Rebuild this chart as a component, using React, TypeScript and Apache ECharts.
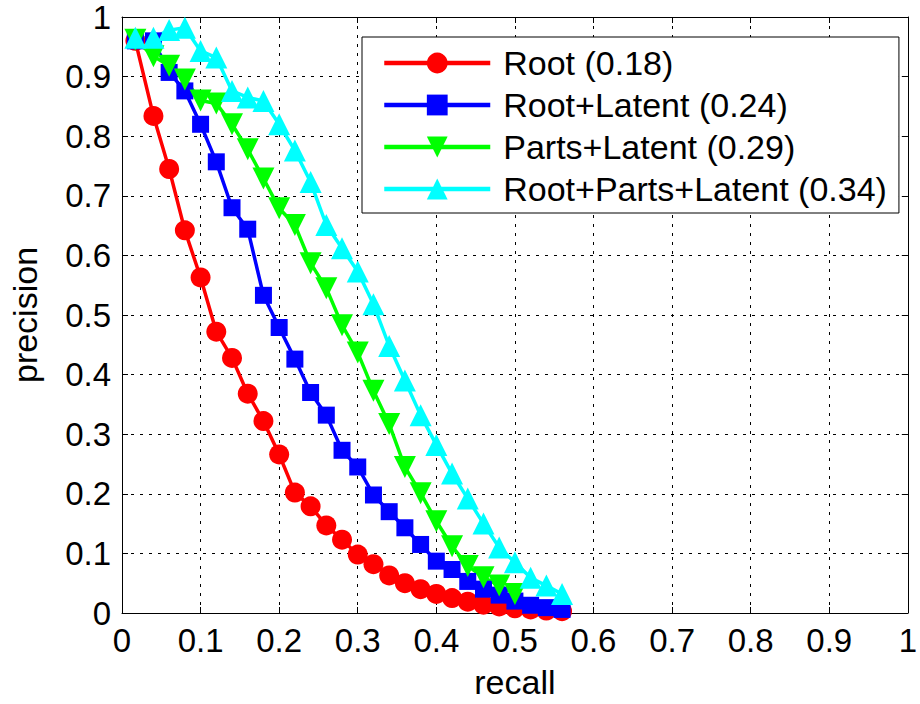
import React, { useEffect, useRef } from "react";
import * as echarts from "echarts";

const recall = [0.017, 0.04, 0.06, 0.08, 0.1, 0.12, 0.14, 0.16, 0.18, 0.2, 0.22, 0.24, 0.26, 0.28, 0.3, 0.32, 0.34, 0.36, 0.38, 0.4, 0.42, 0.44, 0.46, 0.48, 0.5, 0.52, 0.54, 0.56];

const rootPrec = [0.96, 0.834, 0.745, 0.642, 0.563, 0.472, 0.428, 0.368, 0.322, 0.266, 0.202, 0.179, 0.147, 0.123, 0.098, 0.082, 0.063, 0.05, 0.04, 0.032, 0.025, 0.019, 0.014, 0.011, 0.008, 0.006, 0.004, 0.003];
const rootLatentPrec = [0.96, 0.96, 0.907, 0.876, 0.82, 0.757, 0.68, 0.644, 0.533, 0.479, 0.426, 0.37, 0.332, 0.273, 0.245, 0.198, 0.17, 0.143, 0.115, 0.087, 0.073, 0.053, 0.04, 0.03, 0.02, 0.013, 0.009, 0.006];
const partsLatentPrec = [0.962, 0.934, 0.918, 0.895, 0.86, 0.855, 0.82, 0.778, 0.729, 0.679, 0.651, 0.587, 0.545, 0.483, 0.437, 0.373, 0.317, 0.245, 0.201, 0.154, 0.112, 0.079, 0.06, 0.046, 0.032];
const rootPartsLatentPrec = [0.965, 0.965, 0.978, 0.982, 0.943, 0.932, 0.876, 0.865, 0.859, 0.82, 0.776, 0.723, 0.651, 0.612, 0.573, 0.518, 0.448, 0.39, 0.332, 0.282, 0.234, 0.192, 0.15, 0.11, 0.085, 0.059, 0.046, 0.032];

const seriesNames = ["Root (0.18)", "Root+Latent (0.24)", "Parts+Latent (0.29)", "Root+Parts+Latent (0.34)"];
const seriesColors = ["#ff0000", "#0000ff", "#00ff00", "#00ffff"];
const seriesValues = [rootPrec, rootLatentPrec, partsLatentPrec, rootPartsLatentPrec];
const seriesSymbols = ["circle", "rect", "triangle", "triangle"];
const seriesSymbolRotate = [0, 0, 180, 0];
const seriesSymbolSize = [20, 17, 22, 22];

const axisTicks = [0, 0.1, 0.2, 0.3, 0.4, 0.5, 0.6, 0.7, 0.8, 0.9, 1];

const FONT = "'Liberation Sans', Arial, Helvetica, sans-serif";

export default function App() {
  const ref = useRef<HTMLDivElement>(null);
  useEffect(() => {
    if (!ref.current) return;
    const chart = echarts.init(ref.current, undefined, { renderer: "svg" });
    const mkAxis = (pos: string, show: boolean, name?: string) => ({
      type: "value",
      position: pos,
      min: axisTicks[0],
      max: axisTicks[axisTicks.length - 1],
      interval: 0.1,
      name: name,
      nameLocation: "middle",
      nameGap: pos === "bottom" ? 52 : 80,
      nameTextStyle: { fontSize: 34, fontFamily: FONT, color: "#000" },
      axisLine: { show: true, onZero: false, lineStyle: { color: "#000", width: 1 } },
      axisTick: { show: true, inside: true, length: 6, lineStyle: { color: "#000" } },
      axisLabel: {
        show: show,
        fontSize: 33,
        fontFamily: FONT,
        color: "#000",
        margin: 11,
        formatter: (v: number) => String(Math.round(v * 10) / 10),
      },
      splitLine: show
        ? { show: true, lineStyle: { color: "#000", width: 1, type: [3, 6] } }
        : { show: false },
    });
    chart.setOption({
      animation: false,
      backgroundColor: "#fff",
      grid: { left: 122, right: 8, top: 17, bottom: 87, show: false },
      xAxis: [mkAxis("bottom", true, "recall"), mkAxis("top", false)],
      yAxis: [mkAxis("left", true, "precision"), mkAxis("right", false)],
      legend: {
        show: true,
        orient: "vertical",
        left: 362,
        top: 37,
        padding: [9, 12, 7, 20],
        backgroundColor: "#fff",
        borderColor: "#000",
        borderWidth: 1,
        itemWidth: 106,
        itemHeight: 26,
        itemGap: 8,
        lineStyle: { width: 4.5 },
        textStyle: { fontSize: 34, fontFamily: FONT, color: "#000", padding: [0, 0, 0, 8], lineHeight: 34 },
        data: seriesNames,
      },
      series: seriesNames.map((n, i) => ({
        name: n,
        type: "line",
        xAxisIndex: 0,
        yAxisIndex: 0,
        data: seriesValues[i].map((v, k) => [recall[k], v]),
        symbol: seriesSymbols[i],
        symbolSize: seriesSymbolSize[i],
        symbolRotate: seriesSymbolRotate[i],
        showAllSymbol: true,
        lineStyle: { color: seriesColors[i], width: 3.5 },
        itemStyle: { color: seriesColors[i], borderWidth: 0 },
        emphasis: { disabled: true },
      })),
    });
    return () => chart.dispose();
  }, []);
  return <div ref={ref} style={{ position: "fixed", left: 0, top: 0, width: 920, height: 704 }} />;
}
